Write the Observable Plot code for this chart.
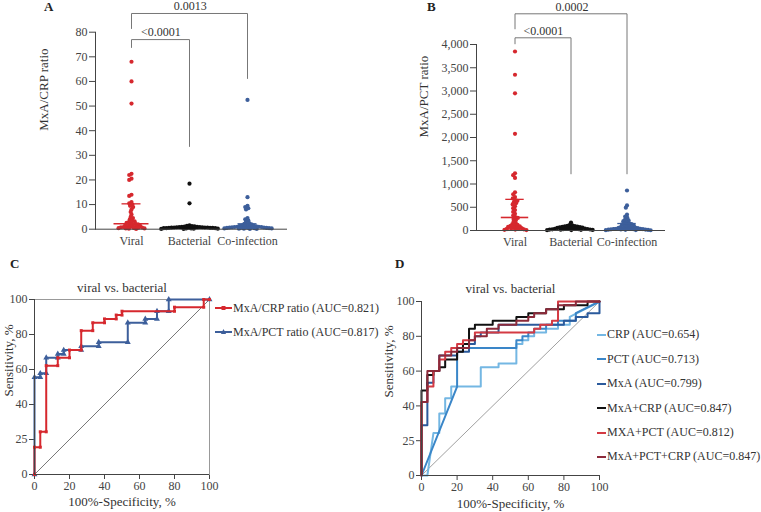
<!DOCTYPE html>
<html><head><meta charset="utf-8">
<script src="https://cdn.jsdelivr.net/npm/d3@7"></script>
<script src="https://cdn.jsdelivr.net/npm/@observablehq/plot@0.6"></script>
<style>
body{margin:0;background:#fff;}
#fig{position:relative;width:761px;height:512px;overflow:hidden;font-family:"Liberation Serif","Times New Roman",serif;color:#333;}
.panel{position:absolute;}
.letter{position:absolute;font-weight:bold;font-size:13px;line-height:13px;color:#222;}
.legend{position:absolute;font-size:12px;color:#333;}
.legend .row{display:flex;align-items:center;white-space:nowrap;}
.legend svg{display:block;margin-right:1px;}
</style></head>
<body><div id="fig"></div>
<script>
const FONT = '"Liberation Serif", "Times New Roman", serif';
const groups = ["Viral", "Bacterial", "Co-infection"];
const groupColors = ["#d6282e", "#111111", "#3d5f9b"];

// Panel A: MxA/CRP ratio
const viralCrpRatio = [68, 60, 51, 22.5, 22, 20.5, 20, 14, 13.5, 11, 10.5, 10, 9.5, 9, 8, 7, 6, 5, 4.5, 4, 3.5, 3.2, 3, 2.6, 2.4, 2.2, 2, 1.9, 1.7, 1.5, 1.4, 1.2, 1.1, 1, 0.9, 0.8, 0.7, 0.6, 0.5, 0.4, 0.3, 0.3, 0.2, 0.1];
const bacterialCrpRatio = [18.5, 10.5, 1.6, 1.4, 1.3, 1.2, 1.1, 1.0, 1.0, 0.9, 0.9, 0.8, 0.8, 0.7, 0.7, 0.7, 0.6, 0.6, 0.5, 0.5, 0.5, 0.4, 0.4, 0.4, 0.3, 0.3, 0.2, 0.2, 0.1, 0.1];
const coinfectionCrpRatio = [52.5, 13, 9.5, 9, 8.5, 8, 4.5, 4, 3.5, 3, 2.5, 2.2, 2, 1.8, 1.6, 1.5, 1.4, 1.3, 1.2, 1.1, 1, 1, 0.9, 0.9, 0.8, 0.8, 0.7, 0.7, 0.6, 0.6, 0.5, 0.5, 0.4, 0.4, 0.3, 0.3, 0.2, 0.2, 0.1, 0.1];
const medianCrpRatio = [2.2, 0.5, 0.85];
const q1CrpRatio = [0.6, 0.3, 0.4];
const q3CrpRatio = [10.3, 0.9, 2.2];
const ticksCrpRatio = [0, 10, 20, 30, 40, 50, 60, 70, 80];
const bracketsCrpRatio = [
  {from: "Viral", to: "Bacterial", top: 77, fromEnd: 73.8, toEnd: 33.6, label: "<0.0001"},
  {from: "Viral", to: "Co-infection", top: 87.6, fromEnd: 81.5, toEnd: 61.2, label: "0.0013"}
];

// Panel B: MxA/PCT ratio
const viralPctRatio = [3850, 3350, 2950, 2080, 1230, 1190, 1130, 820, 780, 720, 690, 660, 640, 610, 590, 560, 520, 480, 440, 400, 360, 320, 290, 270, 250, 220, 190, 160, 140, 120, 110, 100, 90, 80, 70, 60, 50, 40, 35, 30, 25, 20, 15, 10];
const bacterialPctRatio = [170, 120, 110, 100, 95, 90, 85, 80, 75, 70, 65, 60, 55, 50, 45, 42, 40, 38, 35, 32, 30, 28, 25, 22, 20, 18, 15, 12, 10, 8];
const coinfectionPctRatio = [860, 540, 490, 340, 300, 270, 240, 220, 200, 180, 160, 150, 140, 130, 120, 110, 100, 90, 80, 70, 65, 60, 55, 50, 45, 40, 38, 35, 32, 30, 28, 25, 22, 20, 18, 15, 12, 10, 8, 5];
const medianPctRatio = [280, 40, 50];
const q1PctRatio = [60, 22, 22];
const q3PctRatio = [670, 72, 150];
const ticksPctRatio = [0, 500, 1000, 1500, 2000, 2500, 3000, 3500, 4000];
const bracketsPctRatio = [
  {from: "Viral", to: "Bacterial", top: 4144, fromEnd: 4015, toEnd: 1219, label: "<0.0001"},
  {from: "Viral", to: "Co-infection", top: 4660, fromEnd: 4337, toEnd: 1219, label: "0.0002"}
];

// ROC panels
const rocTicks = [0, 20, 40, 60, 80, 100];
const rocYTickLabels = ["0", "25", "40", "60", "80", "100"];
const chanceLine = [[0, 0], [100, 100]];
const rocMxaCrpRatio = [[0,0],[0,15.6],[3.3,15.6],[3.3,24.4],[6.7,24.4],[6.7,62.2],[13.3,62.2],[13.3,66.7],[20,66.7],[20,71.1],[26.7,71.1],[26.7,82.2],[33.3,82.2],[33.3,86.7],[40,86.7],[40,88.9],[46.7,88.9],[46.7,91.1],[50,91.1],[50,93.3],[80,93.3],[80,95.6],[96.7,95.6],[96.7,100],[100,100]];
const rocMxaPctRatio = [[0,0],[0,55.6],[3.3,55.6],[3.3,57.8],[6.7,57.8],[6.7,66.7],[13.3,66.7],[13.3,68.9],[16.7,68.9],[16.7,71.1],[26.7,71.1],[26.7,73.3],[36.7,73.3],[36.7,75.6],[53.3,75.6],[53.3,86.7],[63.3,86.7],[63.3,88.9],[70,88.9],[70,93.3],[76.7,93.3],[76.7,100],[100,100]];
const rocCrp = [[0,0],[3.3,0],[6.7,24.4],[10,24.4],[10,35.6],[13.3,35.6],[13.3,44.4],[16.7,44.4],[16.7,51.1],[33.3,51.1],[33.3,62.2],[43.3,62.2],[43.3,64.4],[53.3,64.4],[53.3,75.6],[56.7,75.6],[56.7,77.8],[60,77.8],[60,80],[63.3,80],[63.3,82.2],[70,82.2],[70,84.4],[76.7,84.4],[76.7,86.7],[83.3,86.7],[83.3,91.1],[100,100]];
const rocPct = [[0,0],[20,51.1],[20,73.3],[53.3,73.3],[53.3,77.8],[56.7,77.8],[56.7,80],[60,80],[60,82.2],[63.3,82.2],[63.3,84.4],[70,84.4],[70,86.7],[76.7,86.7],[76.7,88.9],[86.7,88.9],[86.7,93.3],[100,100]];
const rocMxa = [[0,0],[0,28.9],[3.3,28.9],[3.3,53.3],[6.7,53.3],[6.7,60],[10,60],[10,68.9],[20,68.9],[20,71.1],[26.7,71.1],[26.7,75.6],[30,75.6],[30,80],[33.3,80],[33.3,82.2],[43.3,82.2],[43.3,86.7],[80,86.7],[80,88.9],[86.7,88.9],[86.7,91.1],[93.3,91.1],[93.3,93.3],[100,93.3],[100,100]];
const rocMxaCrp = [[0,0],[0,48.9],[3.3,48.9],[3.3,57.8],[6.7,57.8],[6.7,60],[10,60],[10,62.2],[13.3,62.2],[13.3,66.7],[20,66.7],[20,71.1],[23.3,71.1],[23.3,75.6],[26.7,75.6],[26.7,84.4],[30,84.4],[30,86.7],[40,86.7],[40,88.9],[53.3,88.9],[53.3,91.1],[60,91.1],[60,93.3],[70,93.3],[70,95.6],[80,95.6],[80,97.8],[93.3,97.8],[93.3,100],[100,100]];
const rocMxaPct = [[0,0],[0,42.2],[3.3,42.2],[3.3,51.1],[6.7,51.1],[6.7,60],[10,60],[10,66.7],[13.3,66.7],[13.3,71.1],[16.7,71.1],[16.7,73.3],[20,73.3],[20,75.6],[23.3,75.6],[23.3,77.8],[30,77.8],[30,82.2],[63.3,82.2],[63.3,84.4],[66.7,84.4],[66.7,86.7],[73.3,86.7],[73.3,88.9],[76.7,88.9],[76.7,100],[100,100]];
const rocMxaPctCrp = [[0,0],[0,42.2],[3.3,42.2],[3.3,60],[10,60],[10,68.9],[16.7,68.9],[16.7,71.1],[20,71.1],[20,73.3],[26.7,73.3],[26.7,77.8],[30,77.8],[30,80],[36.7,80],[36.7,84.4],[43.3,84.4],[43.3,86.7],[53.3,86.7],[53.3,88.9],[60,88.9],[60,91.1],[63.3,91.1],[63.3,93.3],[70,93.3],[70,95.6],[76.7,95.6],[76.7,97.8],[86.7,97.8],[86.7,100],[100,100]];
const labelsC = ["MxA/CRP ratio (AUC=0.821)", "MxA/PCT ratio (AUC=0.817)"];
const colorsC = ["#d6282e", "#3d5f9b"];
const labelsD = ["CRP (AUC=0.654)", "PCT (AUC=0.713)", "MxA (AUC=0.799)", "MxA+CRP (AUC=0.847)", "MXA+PCT (AUC=0.812)", "MxA+PCT+CRP (AUC=0.847)"];
const colorsD = ["#74b7e3", "#3a86c8", "#2b5a9c", "#111111", "#d43a43", "#8c2a3a"];

const fig = document.getElementById("fig");
function place(node, left, top) {
  const d = document.createElement("div");
  d.className = "panel";
  d.style.left = left + "px"; d.style.top = top + "px";
  d.appendChild(node); fig.appendChild(d);
}
function letter(t, left, top) {
  const d = document.createElement("div");
  d.className = "letter"; d.textContent = t;
  d.style.left = left + "px"; d.style.top = top + "px";
  fig.appendChild(d);
}
const baseStyle = {background: "transparent", fontFamily: FONT, fontSize: "12px", color: "#444", overflow: "visible"};

function scatterPanel(c) {
  const rows = groups.flatMap((g, i) => c.series[i].map(v => ({group: g, value: v})));
  const stats = groups.map((g, i) => ({group: g, median: c.median[i], q1: c.q1[i], q3: c.q3[i]}));
  const frameW = c.width - c.mL - c.mR;
  const step = frameW / (groups.length - 0.2 + 2 * c.po);
  const bw = step * 0.8;
  const common = {width: c.width, height: c.height, marginLeft: c.mL, marginRight: c.mR, marginTop: c.mT, marginBottom: c.mB,
    color: {domain: groups, range: groupColors}, style: baseStyle};
  const dots = Plot.plot({...common,
    facet: {data: rows, x: "group"},
    fx: {domain: groups, paddingInner: 0.2, paddingOuter: c.po, axis: null, label: null},
    y: {domain: c.yDomain, axis: null},
    marks: [Plot.dot(rows, Plot.dodgeX({anchor: "middle", padding: -1.6}, {y: "value", r: 2.1, fill: "group"}))]
  });
  const pts = c.brackets.flatMap((b, k) => [
    {id: k, g: b.from, v: b.fromEnd}, {id: k, g: b.from, v: b.top}, {id: k, g: b.to, v: b.top}, {id: k, g: b.to, v: b.toEnd}]);
  const overlay = Plot.plot({...common,
    x: {type: "band", domain: groups, paddingInner: 0.2, paddingOuter: c.po, tickSize: 0, tickPadding: 7, label: null},
    y: {domain: c.yDomain, ticks: c.yTicks, tickFormat: c.yFormat, tickSize: 6, tickPadding: 2, label: null, line: true},
    marks: [
      Plot.ruleY([c.yDomain[0]], {stroke: "#444", insetRight: -c.axisExt}),
      Plot.ruleX(stats, {x: "group", y1: "q1", y2: "q3", stroke: "group", strokeWidth: 1.2}),
      Plot.tickY(stats, {x: "group", y: "median", stroke: "group", strokeWidth: 1.6, insetLeft: bw / 2 - c.medHalf, insetRight: bw / 2 - c.medHalf}),
      Plot.tickY(stats, {x: "group", y: "q3", stroke: "group", strokeWidth: 1.3, insetLeft: bw / 2 - c.qHalf, insetRight: bw / 2 - c.qHalf}),
      Plot.tickY(stats, {x: "group", y: "q1", stroke: "group", strokeWidth: 1.3, insetLeft: bw / 2 - c.qHalf, insetRight: bw / 2 - c.qHalf}),
      Plot.line(pts, {x: "g", y: "v", z: "id", stroke: "#777", strokeWidth: 1}),
      ...c.brackets.map(b => Plot.text([b], {x: "from", y: "top", text: "label", dx: (groups.indexOf(b.to) - groups.indexOf(b.from)) * step / 2, dy: -7, fontSize: 12, fill: "#333"})),
      Plot.text([c.yTitle], {frameAnchor: "left", dx: c.yTitleDx, rotate: -90, text: d => d, fontSize: 13, fill: "#333"})
    ]
  });
  place(dots, c.left, c.top);
  place(overlay, c.left, c.top);
}

scatterPanel({left: 0, top: 0, width: 380, height: 260, mL: 95, mR: 97, mT: 31.7, mB: 31.3, po: 0.2,
  yDomain: [0, 80], yTicks: ticksCrpRatio, yFormat: d3.format("d"),
  series: [viralCrpRatio, bacterialCrpRatio, coinfectionCrpRatio],
  median: medianCrpRatio, q1: q1CrpRatio, q3: q3CrpRatio, brackets: bracketsCrpRatio,
  yTitle: "MxA/CRP ratio", yTitleDx: -52, axisExt: 4, medHalf: 18, qHalf: 10});
scatterPanel({left: 380, top: 0, width: 381, height: 260, mL: 96, mR: 97, mT: 44, mB: 30, po: 0.25,
  yDomain: [0, 4000], yTicks: ticksPctRatio, yFormat: d3.format(","),
  series: [viralPctRatio, bacterialPctRatio, coinfectionPctRatio],
  median: medianPctRatio, q1: q1PctRatio, q3: q3PctRatio, brackets: bracketsPctRatio,
  yTitle: "MxA/PCT ratio", yTitleDx: -53, axisExt: 1, medHalf: 14, qHalf: 9.5});

function rocPanel(c) {
  const X = d => d[0], Y = d => d[1];
  const marks = [];
  if (c.frame) marks.push(Plot.frame({stroke: "#999"}));
  marks.push(Plot.line(chanceLine, {x: X, y: Y, stroke: c.diag, strokeWidth: 0.8}));
  c.curves.forEach(cv => {
    marks.push(Plot.line(cv.data, {x: X, y: Y, stroke: cv.color, strokeWidth: 2}));
    if (cv.symbol) marks.push(Plot.dot(cv.data, {x: X, y: Y, symbol: cv.symbol, r: cv.r, fill: cv.color}));
  });
  marks.push(Plot.ruleX([0], {stroke: "#444"}), Plot.ruleY([0], {stroke: "#444"}));
  marks.push(Plot.text(["viral vs. bacterial"], {frameAnchor: "top", dy: c.titleDy, text: d => d, fontSize: 13, fill: "#333"}));
  marks.push(Plot.text(["100%-Specificity, %"], {frameAnchor: "bottom", dy: c.xTitleDy, text: d => d, fontSize: 13, fill: "#333"}));
  marks.push(Plot.text(["Sensitivity, %"], {frameAnchor: "left", dx: c.yTitleDx, dy: c.yTitleDy, rotate: -90, text: d => d, fontSize: 13, fill: "#333"}));
  const p = Plot.plot({width: c.width, height: c.height, marginLeft: c.mL, marginRight: c.mR, marginTop: c.mT, marginBottom: c.mB,
    style: baseStyle,
    x: {domain: [0, 100], ticks: rocTicks, tickSize: 5, tickPadding: 2, tickFormat: d3.format("d"), label: null},
    y: {domain: [0, 100], ticks: rocTicks, tickSize: 5, tickPadding: 2, tickFormat: d => rocYTickLabels[rocTicks.indexOf(d)], label: null},
    marks});
  place(p, c.left, c.top);
}

rocPanel({left: 0, top: 250, width: 380, height: 262, mL: 34, mR: 171, mT: 49, mB: 38, frame: true, diag: "#555",
  titleDy: -17, xTitleDy: 31, yTitleDx: -26, yTitleDy: 9.5,
  curves: [
    {data: rocMxaPctRatio, color: colorsC[1], symbol: "triangle", r: 2.2},
    {data: rocMxaCrpRatio, color: colorsC[0], symbol: "square", r: 1.7}
  ]});
rocPanel({left: 380, top: 250, width: 381, height: 262, mL: 41, mR: 162, mT: 51, mB: 37, frame: false, diag: "#888",
  titleDy: -18, xTitleDy: 32, yTitleDx: -33, yTitleDy: 9,
  curves: [rocCrp, rocPct, rocMxa, rocMxaCrp, rocMxaPct, rocMxaPctCrp].map((d, i) => ({data: d, color: colorsD[i]}))});

function legend(left, top, rowH, labels, colors, swW, markers) {
  const box = document.createElement("div");
  box.className = "legend"; box.style.left = left + "px"; box.style.top = top + "px";
  labels.forEach((lab, i) => {
    const row = document.createElement("div");
    row.className = "row"; row.style.height = rowH + "px";
    const m = swW / 2;
    let mk = "";
    if (markers && markers[i] === "square") mk = `<rect x="${m - 2}" y="2" width="4" height="4" fill="${colors[i]}"/>`;
    if (markers && markers[i] === "triangle") mk = `<polygon points="${m},1 ${m + 2.6},6 ${m - 2.6},6" fill="${colors[i]}"/>`;
    row.innerHTML = `<svg width="${swW}" height="8"><line x1="0" y1="4" x2="${swW}" y2="4" stroke="${colors[i]}" stroke-width="2"/>${mk}</svg><span></span>`;
    row.querySelector("span").textContent = lab;
    box.appendChild(row);
  });
  fig.appendChild(box);
}
legend(215, 296, 24, labelsC, colorsC, 17, ["square", "triangle"]);
legend(597, 322.8, 24.4, labelsD, colorsD, 9, null);

letter("A", 44, 0);
letter("B", 427, 0);
letter("C", 10, 257);
letter("D", 395, 257);
</script>
</body></html>
